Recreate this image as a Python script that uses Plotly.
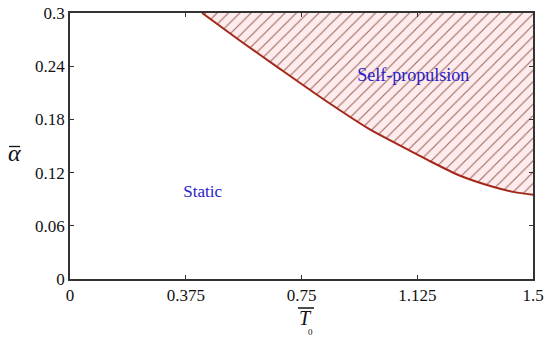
import plotly.graph_objects as go

# boundary curve between static and self-propulsion regimes
T0 = [0.428, 0.55, 0.68, 0.82, 0.97, 1.05, 1.16, 1.26, 1.37, 1.44, 1.5]
alpha = [0.300, 0.269, 0.237, 0.203, 0.169, 0.154, 0.134, 0.117, 0.104, 0.098, 0.095]

x_ticks = [0, 0.375, 0.75, 1.125, 1.5]
x_tick_labels = ["0", "0.375", "0.75", "1.125", "1.5"]
y_ticks = [0, 0.06, 0.12, 0.18, 0.24, 0.3]
y_tick_labels = ["0", "0.06", "0.12", "0.18", "0.24", "0.3"]

region_labels = ["Self-propulsion", "Static"]
region_x = [1.112, 0.43]
region_y = [0.228, 0.097]

ymax = 0.3
xmax = 1.5

W, H = 550, 343
L, R, T, B = 70, 17, 13, 64
pw, ph = W - L - R, H - T - B


def px(x):
    return (x - L) / pw


def py(y):
    return (H - B - y) / ph


fig = go.Figure()

# hatched region above the curve
poly_x = T0 + [xmax, T0[0]]
poly_y = alpha + [ymax, ymax]
fig.add_trace(go.Scatter(
    x=poly_x, y=poly_y, mode="lines", fill="toself",
    line=dict(width=0, color="rgba(0,0,0,0)"),
    fillcolor="#fdebee",
    fillpattern=dict(shape="/", fgcolor="#a06a58", bgcolor="#fdebee",
                     size=8, solidity=0.14, fillmode="replace"),
    hoverinfo="skip", showlegend=False,
))

# boundary line
fig.add_trace(go.Scatter(
    x=T0, y=alpha, mode="lines", line=dict(color="#a3281a", width=2, shape="spline", smoothing=0.6),
    showlegend=False,
))

# region labels
fig.add_trace(go.Scatter(
    x=region_x, y=region_y, mode="text", text=region_labels,
    textfont=dict(family="Liberation Serif", size=[18, 17], color="#2a22c8"),
    showlegend=False, hoverinfo="skip",
))

axis_common = dict(
    showgrid=False, zeroline=False, showline=True, linecolor="#333333", linewidth=1.5,
    mirror="ticks", ticks="inside", ticklen=4, tickwidth=1.2, tickcolor="#333333",
    tickfont=dict(family="Liberation Serif", size=17, color="#111111"),
    automargin=False,
)

fig.update_layout(
    width=W, height=H,
    margin=dict(l=L, r=R, t=T, b=B),
    paper_bgcolor="white", plot_bgcolor="white",
    xaxis=dict(range=[0, xmax], tickvals=x_ticks, ticktext=x_tick_labels, **axis_common),
    yaxis=dict(range=[0, ymax], tickvals=y_ticks, ticktext=y_tick_labels, **axis_common),
    annotations=[
        dict(text="<i>\u03b1</i>", xref="paper", yref="paper", x=px(14), y=py(153),
             showarrow=False, xanchor="center", yanchor="middle",
             font=dict(family="Liberation Serif", size=24, color="#111111")),
        dict(text="<i>T</i>", xref="paper", yref="paper", x=px(305), y=py(318),
             showarrow=False, xanchor="center", yanchor="middle",
             font=dict(family="Liberation Serif", size=20, color="#111111")),
        dict(text="0", xref="paper", yref="paper", x=px(310), y=py(332),
             showarrow=False, xanchor="center", yanchor="middle",
             font=dict(family="Liberation Serif", size=9, color="#111111")),
    ],
    shapes=[
        dict(type="line", xref="paper", yref="paper", x0=px(9), x1=px(20), y0=py(146.5), y1=py(146.5),
             line=dict(color="#111111", width=1.3)),
        dict(type="line", xref="paper", yref="paper", x0=px(298), x1=px(314), y0=py(308), y1=py(308),
             line=dict(color="#111111", width=1.5)),
    ],
)

fig.write_html("out.html", config={"displayModeBar": False},
               post_script="document.body.style.margin='0px';")
